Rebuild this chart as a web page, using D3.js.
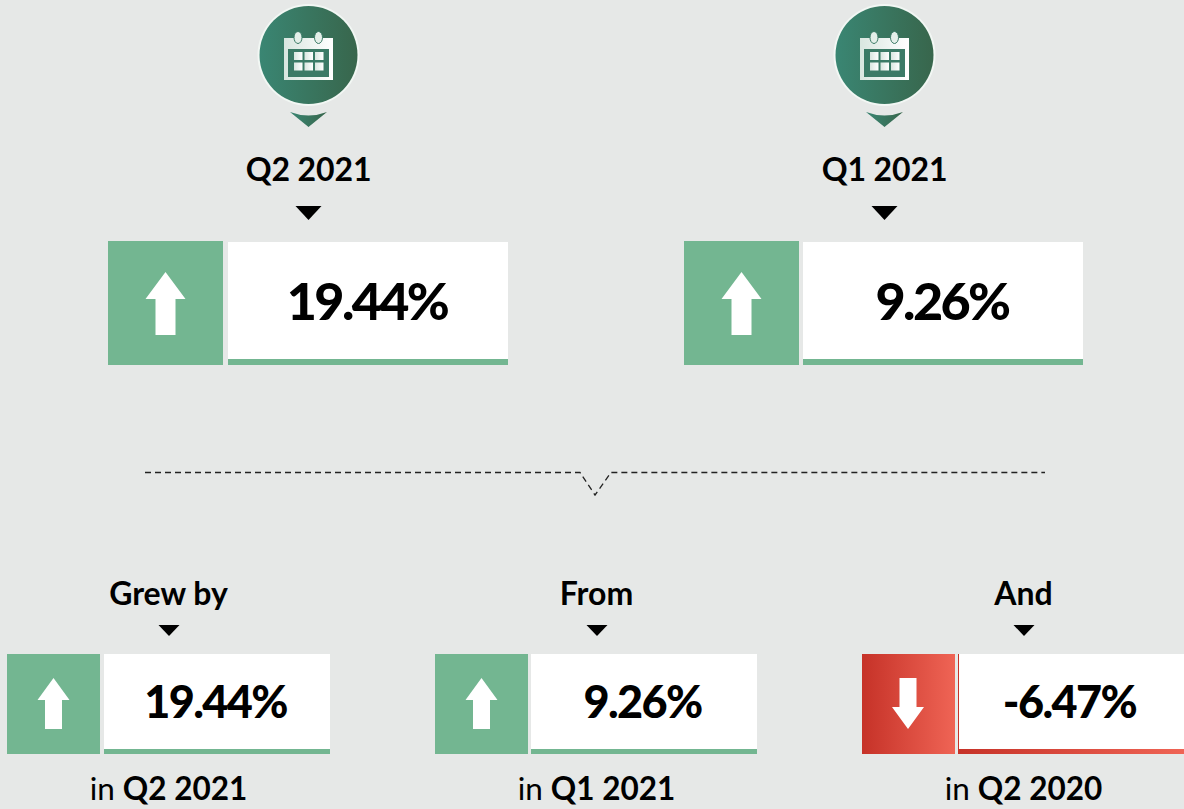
<!DOCTYPE html>
<html>
<head>
<meta charset="utf-8">
<script src="https://cdn.jsdelivr.net/npm/d3@7"></script>
<style>
  html, body { margin: 0; padding: 0; background: #e6e8e7; overflow: hidden; }
  svg { display: block; }
  text { font-family: Lato, sans-serif; fill: #000; text-anchor: middle; }
</style>
</head>
<body>
<svg class="chart"></svg>
<script>
// top row
var topLabels = ["Q2 2021", "Q1 2021"];
var topValues = [19.44, 9.26];

// bottom row
var bottomHeads = ["Grew by", "From", "And"];
var bottomValues = [19.44, 9.26, -6.47];
var bottomPeriods = ["Q2 2021", "Q1 2021", "Q2 2020"];

var width = 1184, height = 809,
  green = "#73b691";

var svg = d3.select(".chart").attr("width", width).attr("height", height);
var defs = svg.append("defs");

function gradient(id, from, to){
  var g = defs.append("linearGradient").attr("id", id);
  g.append("stop").attr("offset", "0%").attr("stop-color", from);
  g.append("stop").attr("offset", "100%").attr("stop-color", to);
}
gradient("pin", "#3a8673", "#38664c");
gradient("redfill", "#c63228", "#ef6455");
gradient("iconfill", "#d9e6e0", "#ffffff");

var fmt = function(d){ return d.toFixed(2) + "%"; };

function arrow(g, cx, top, bottom, headW, shaftW, headH, up){
  var path = d3.path();
  if(up){
    path.moveTo(cx, top);
    path.lineTo(cx + headW/2, top + headH);
    path.lineTo(cx + shaftW/2, top + headH);
    path.lineTo(cx + shaftW/2, bottom);
    path.lineTo(cx - shaftW/2, bottom);
    path.lineTo(cx - shaftW/2, top + headH);
    path.lineTo(cx - headW/2, top + headH);
  } else {
    path.moveTo(cx, bottom);
    path.lineTo(cx + headW/2, bottom - headH);
    path.lineTo(cx + shaftW/2, bottom - headH);
    path.lineTo(cx + shaftW/2, top);
    path.lineTo(cx - shaftW/2, top);
    path.lineTo(cx - shaftW/2, bottom - headH);
    path.lineTo(cx - headW/2, bottom - headH);
  }
  path.closePath();
  g.append("path").attr("d", path.toString()).attr("fill", "#fff");
}

function triangle(cx, top, w, h){
  var path = d3.path();
  path.moveTo(cx - w/2, top);
  path.lineTo(cx + w/2, top);
  path.lineTo(cx, top + h);
  path.closePath();
  svg.append("path").attr("d", path.toString()).attr("fill", "#000");
}

// calendar pin on top of each top card
function pin(cx){
  var g = svg.append("g").attr("transform", "translate(" + cx + ",55)");
  g.append("circle").attr("r", 51).attr("fill", "#f2f7f4");
  g.append("circle").attr("r", 49).attr("fill", "url(#pin)");
  g.append("path").attr("d", "M-18.5,57 Q0,64 18.5,57 L0,72 Z").attr("fill", "url(#pin)");

  g.append("rect").attr("x", -24.5).attr("y", -17).attr("width", 49).attr("height", 42).attr("fill", "url(#iconfill)");
  g.append("rect").attr("x", -20.5).attr("y", -6).attr("width", 41).attr("height", 28).attr("fill", "#3b7a66");
  [-10.5, 10].forEach(function(dx){
    g.append("ellipse").attr("cx", dx).attr("cy", -17.5).attr("rx", 4).attr("ry", 6)
     .attr("fill", "#e4efe9").attr("stroke", "#3b7a66").attr("stroke-width", 1);
  });
  d3.range(3).forEach(function(i){
    d3.range(2).forEach(function(j){
      g.append("rect").attr("x", -14.5 + i * 10.5).attr("y", -3 + j * 10.5)
       .attr("width", 8.5).attr("height", 8).attr("fill", "url(#iconfill)");
    });
  });
}

// one KPI card: coloured arrow box + white value box with a coloured bottom bar
function card(o){
  var up = o.value >= 0,
    fill = up ? green : "url(#redfill)",
    g = svg.append("g");

  g.append("rect").attr("x", o.x).attr("y", o.y).attr("width", o.iconW).attr("height", o.h).attr("fill", fill);
  g.append("rect").attr("x", o.boxX).attr("y", o.y + o.boxInset).attr("width", o.boxW)
   .attr("height", o.h - o.boxInset).attr("fill", up ? "#fff" : "url(#redfill)");
  if(!up){
    g.append("rect").attr("x", o.boxX + 1).attr("y", o.y + o.boxInset).attr("width", o.boxW - 1)
     .attr("height", o.h - o.boxInset - o.barH).attr("fill", "#fff");
  } else {
    g.append("rect").attr("x", o.boxX).attr("y", o.y + o.h - o.barH).attr("width", o.boxW)
     .attr("height", o.barH).attr("fill", fill);
  }

  arrow(g, o.x + o.iconW / 2 + (up ? 0 : -0.5), o.arrowTop, o.arrowBottom, o.headW, o.shaftW, o.headH, up);

  g.append("text").attr("x", o.boxX + o.boxW / 2 + o.textDx).attr("y", o.textY)
   .attr("font-size", o.fontSize).attr("font-weight", 900)
   .attr("letter-spacing", o.tracking)
   .text(fmt(o.value));
}

var topX = [108, 684];
topValues.forEach(function(v, i){
  var x = topX[i];
  pin(x + 200.5);
  svg.append("text").attr("x", x + 200.5).attr("y", 181).attr("font-size", 32).attr("font-weight", 700).attr("letter-spacing", -0.1).text(topLabels[i]);
  triangle(x + 200.5, 206, 26, 14);
  card({x: x, y: 241, iconW: 115, h: 124, boxX: x + 120 - (i ? 1 : 0), boxW: 280, boxInset: 1, barH: 6,
    value: v, arrowTop: 272, arrowBottom: 335, headW: 40, shaftW: 20, headH: 27,
    textY: 319.5, fontSize: 52, tracking: -2.6, textDx: -1});
});

// divider with notch
var dividerY = 472.5;
var line = d3.line();
svg.append("path")
   .attr("d", line([[145, dividerY], [580, dividerY], [595, 495], [611, dividerY], [1045, dividerY]]))
   .attr("fill", "none").attr("stroke", "#222").attr("stroke-width", 1.3).attr("stroke-dasharray", "6 4");

var botX = [7, 435, 862];
var botBoxX = [104, 531, 958];
bottomValues.forEach(function(v, i){
  var x = botX[i], bx = botBoxX[i];
  svg.append("text").attr("x", x + 161.5).attr("y", 605).attr("font-size", 32).attr("font-weight", 700).text(bottomHeads[i]);
  triangle(x + 162, 625, 21, 11);
  card({x: x, y: 654, iconW: 93, h: 100, boxX: bx, boxW: 226, boxInset: 0, barH: 5,
    value: v, arrowTop: 678, arrowBottom: 729, headW: 32, shaftW: 17, headH: 22,
    textY: 717.5, fontSize: 45, tracking: -1.6, textDx: -1.5});
  var t = svg.append("text").attr("x", x + 161.5).attr("y", 800).attr("font-size", 31.5);
  t.append("tspan").text("in ");
  t.append("tspan").attr("font-weight", 700).text(bottomPeriods[i]);
});
</script>
</body>
</html>
